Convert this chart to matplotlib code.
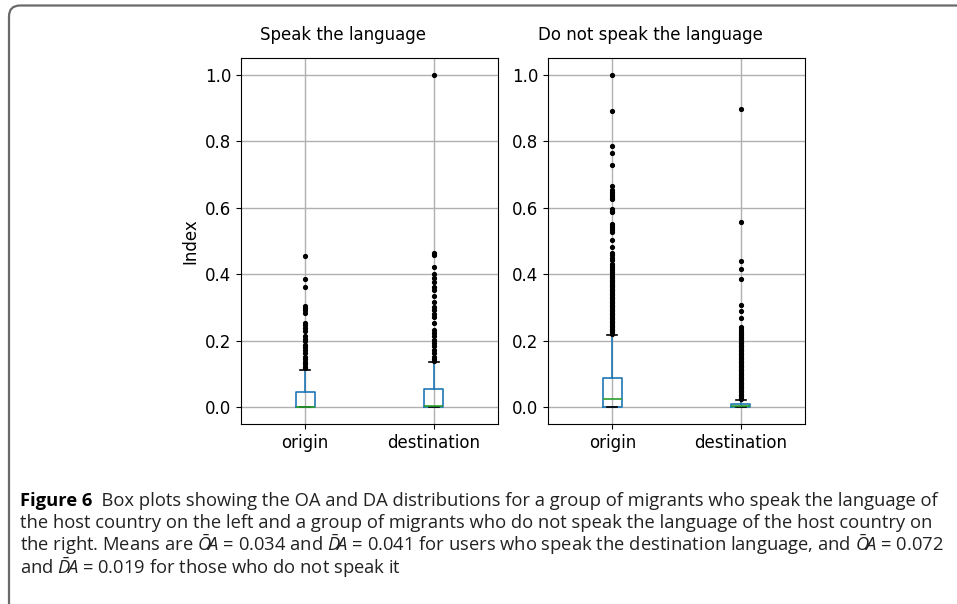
import matplotlib
matplotlib.use("Agg")
import matplotlib.pyplot as plt
from matplotlib import font_manager
from matplotlib.patches import FancyBboxPatch
from matplotlib.transforms import IdentityTransform

# ---------------- data ----------------
categories = ["origin", "destination"]
panel_titles = ["Speak the language", "Do not speak the language"]
y_label = "Index"
y_ticks = [0.0, 0.2, 0.4, 0.6, 0.8, 1.0]
y_tick_labels = ["0.0", "0.2", "0.4", "0.6", "0.8", "1.0"]

# speak the language
speak_origin_box = dict(q1=0.0, med=0.0, q3=0.045, whislo=0.0, whishi=0.112)
speak_origin_fliers = [0.455, 0.385, 0.360, 0.303, 0.298, 0.293, 0.283, 0.253,
                       0.248, 0.238, 0.228, 0.213, 0.205, 0.198, 0.188, 0.181,
                       0.173, 0.162, 0.152, 0.144, 0.137, 0.129, 0.122, 0.117]
speak_dest_box = dict(q1=0.0, med=0.003, q3=0.055, whislo=0.0, whishi=0.136)
speak_dest_fliers = [1.0, 0.463, 0.458, 0.423, 0.401, 0.388, 0.376, 0.363,
                     0.351, 0.333, 0.315, 0.301, 0.291, 0.281, 0.270, 0.253,
                     0.233, 0.223, 0.213, 0.203, 0.193, 0.183, 0.173, 0.162,
                     0.152, 0.145, 0.140]

# do not speak the language
nospeak_origin_box = dict(q1=0.0, med=0.025, q3=0.087, whislo=0.0, whishi=0.216)
nospeak_origin_fliers = [1.0, 0.890, 0.786, 0.764, 0.728, 0.667, 0.655, 0.648,
                         0.642, 0.636, 0.630, 0.625, 0.597, 0.591, 0.586, 0.552,
                         0.544, 0.538, 0.532, 0.526, 0.503, 0.483, 0.463, 0.457,
                         0.450, 0.444, 0.430, 0.424, 0.418, 0.412, 0.406, 0.400,
                         0.396, 0.392, 0.388, 0.384, 0.380, 0.376, 0.372, 0.368,
                         0.364, 0.360, 0.356, 0.352, 0.348, 0.344, 0.340, 0.336,
                         0.332, 0.328, 0.324, 0.320, 0.316, 0.312, 0.308, 0.304,
                         0.300, 0.296, 0.292, 0.288, 0.284, 0.280, 0.276, 0.272,
                         0.268, 0.264, 0.260, 0.256, 0.252, 0.248, 0.244, 0.240,
                         0.236, 0.232, 0.228, 0.224, 0.220]
nospeak_dest_box = dict(q1=0.0, med=0.002, q3=0.010, whislo=0.0, whishi=0.022)
nospeak_dest_fliers = [0.897, 0.557, 0.441, 0.415, 0.385, 0.308, 0.288, 0.268,
                       0.240, 0.236, 0.228, 0.224, 0.220, 0.216, 0.212, 0.208,
                       0.204, 0.200, 0.196, 0.192, 0.188, 0.184, 0.180, 0.176,
                       0.172, 0.168, 0.164, 0.160, 0.156, 0.152, 0.148, 0.144,
                       0.140, 0.136, 0.132, 0.128, 0.124, 0.120, 0.116, 0.112,
                       0.108, 0.104, 0.100, 0.096, 0.092, 0.088, 0.084, 0.080,
                       0.076, 0.072, 0.068, 0.064, 0.060, 0.056, 0.052, 0.048,
                       0.044, 0.040, 0.036, 0.032, 0.028, 0.025]

caption_bold = "Figure 6"
caption_lines = [
    "  Box plots showing the OA and DA distributions for a group of migrants who speak the language of",
    "the host country on the left and a group of migrants who do not speak the language of the host country on",
    r"the right. Means are $\bar{O}\!A$ = 0.034 and $\bar{D}\!A$ = 0.041 for users who speak the destination language, and $\bar{O}\!A$ = 0.072",
    r"and $\bar{D}\!A$ = 0.019 for those who do not speak it",
]

# ---------------- fonts ----------------
plt.rcParams["font.family"] = ["DejaVu Sans"]
avail = {f.name for f in font_manager.fontManager.ttflist}
cap_font = "Open Sans" if "Open Sans" in avail else "Liberation Sans"
plt.rcParams["mathtext.fontset"] = "custom"
plt.rcParams["mathtext.rm"] = cap_font
plt.rcParams["mathtext.it"] = cap_font + ":italic"
plt.rcParams["mathtext.bf"] = cap_font + ":bold"

W, H = 957, 604
fig = plt.figure(figsize=(W / 100, H / 100), dpi=100)

# outer rounded frame
frame = FancyBboxPatch((9, -20), 1000, H - 5.5 + 20,
                       boxstyle="round,pad=0,rounding_size=11",
                       transform=IdentityTransform(), fill=False,
                       edgecolor="#6a6a6a", linewidth=1.6)
fig.patches.append(frame)


def px(x0, y0, x1, y1):
    return [x0 / W, 1 - y1 / H, (x1 - x0) / W, (y1 - y0) / H]


axes = [fig.add_axes(px(241, 58, 498, 424)), fig.add_axes(px(548, 58, 805, 424))]
data = [
    [(speak_origin_box, speak_origin_fliers), (speak_dest_box, speak_dest_fliers)],
    [(nospeak_origin_box, nospeak_origin_fliers), (nospeak_dest_box, nospeak_dest_fliers)],
]

for ax, panel in zip(axes, data):
    stats = []
    for (box, fl), lab in zip(panel, categories):
        s = dict(box)
        s["fliers"] = fl
        s["label"] = lab
        stats.append(s)
    ax.bxp(stats, positions=[1, 2], widths=0.15, showfliers=True,
           boxprops=dict(color="C0", linewidth=1.2),
           whiskerprops=dict(color="C0", linewidth=1.2),
           capprops=dict(color="k", linewidth=1.2),
           medianprops=dict(color="C2", linewidth=1.2),
           flierprops=dict(marker=".", markerfacecolor="k", markeredgecolor="k",
                           markersize=5.5, linestyle="none"))
    ax.set_xlim(0.5, 2.5)
    ax.set_ylim(-0.051, 1.051)
    ax.set_yticks(y_ticks)
    ax.set_yticklabels(y_tick_labels)
    ax.grid(True, color="#b0b0b0", linewidth=1.0)
    ax.set_axisbelow(True)
    ax.tick_params(labelsize=12)

axes[0].set_ylabel(y_label, fontsize=12)

fig.text(343 / W, 1 - 35 / H, panel_titles[0], ha="center", va="center", fontsize=12)
fig.text(650 / W, 1 - 35 / H, panel_titles[1], ha="center", va="center", fontsize=12)

# caption: fit the first line's width to the reference width (20 -> 933 px)
renderer = fig.canvas.get_renderer()
probe_b = fig.text(0, 0, caption_bold, fontsize=12, family=cap_font, fontweight="bold")
probe_r = fig.text(0, 0, caption_lines[0], fontsize=12, family=cap_font)
w12 = probe_b.get_window_extent(renderer).width + probe_r.get_window_extent(renderer).width
probe_b.remove()
probe_r.remove()
cap_size = 12 * (933 - 20) / w12

y_lines = [501, 523, 545, 568]
for i, (line, yl) in enumerate(zip(caption_lines, y_lines)):
    x0 = 20
    if i == 0:
        t = fig.text(x0 / W, 1 - yl / H, caption_bold, ha="left", va="center",
                     fontsize=cap_size, family=cap_font, fontweight="bold")
        x0 = t.get_window_extent(renderer).x1
    fig.text(x0 / W, 1 - yl / H, line, ha="left", va="center",
             fontsize=cap_size, family=cap_font, color="#222222")

fig.savefig("out.png", dpi=100)
